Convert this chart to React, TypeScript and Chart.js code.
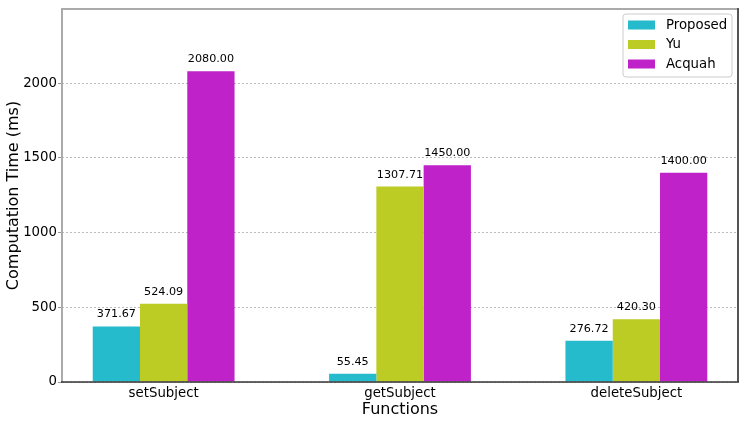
import React, { useEffect, useRef } from "react";
import { Chart, registerables } from "chart.js";

Chart.register(...registerables);

const categories = ["setSubject", "getSubject", "deleteSubject"];
const seriesNames = ["Proposed", "Yu", "Acquah"];
const proposed = [371.67, 55.45, 276.72];
const yu = [524.09, 1307.71, 420.3];
const acquah = [2080.0, 1450.0, 1400.0];
const yTicks = [0, 500, 1000, 1500, 2000];

const colors = ["#26bbcc", "#bdcb25", "#be22c8"];
const FONT = "'DejaVu Sans', sans-serif";

const framePlugin = {
  id: "frame",
  afterDatasetsDraw(chart: any) {
    const { ctx, chartArea: a } = chart;
    ctx.save();
    ctx.lineCap = "butt";
    ctx.strokeStyle = "#aaaaaa";
    ctx.lineWidth = 2;
    ctx.beginPath();
    ctx.moveTo(a.left - 1, a.top);
    ctx.lineTo(a.right, a.top);
    ctx.stroke();
    ctx.beginPath();
    ctx.moveTo(a.left, a.top);
    ctx.lineTo(a.left, a.bottom);
    ctx.stroke();
    ctx.strokeStyle = "#555555";
    ctx.beginPath();
    ctx.moveTo(a.right, a.top - 1);
    ctx.lineTo(a.right, a.bottom);
    ctx.stroke();
    ctx.strokeStyle = "#333333";
    ctx.lineWidth = 1.5;
    ctx.beginPath();
    ctx.moveTo(a.left - 1, a.bottom);
    ctx.lineTo(a.right + 1, a.bottom);
    ctx.stroke();

    ctx.fillStyle = "#000";
    ctx.font = `11.2px ${FONT}`;
    ctx.textAlign = "center";
    ctx.textBaseline = "alphabetic";
    chart.data.datasets.forEach((ds: any, di: number) => {
      const meta = chart.getDatasetMeta(di);
      meta.data.forEach((bar: any, i: number) => {
        const v = ds.data[i].y;
        ctx.fillText(v.toFixed(2), bar.x, bar.y - 9);
      });
    });
    ctx.restore();
  },
  afterDraw(chart: any) {
    const { ctx } = chart;
    const x = 623, y = 14, w = 109, h = 63, r = 3;
    ctx.save();
    ctx.fillStyle = "rgba(255,255,255,0.85)";
    ctx.strokeStyle = "#cccccc";
    ctx.lineWidth = 1;
    ctx.beginPath();
    ctx.moveTo(x + r, y);
    ctx.lineTo(x + w - r, y);
    ctx.arcTo(x + w, y, x + w, y + r, r);
    ctx.lineTo(x + w, y + h - r);
    ctx.arcTo(x + w, y + h, x + w - r, y + h, r);
    ctx.lineTo(x + r, y + h);
    ctx.arcTo(x, y + h, x, y + h - r, r);
    ctx.lineTo(x, y + r);
    ctx.arcTo(x, y, x + r, y, r);
    ctx.closePath();
    ctx.fill();
    ctx.stroke();
    ctx.font = `13.3px ${FONT}`;
    ctx.textAlign = "left";
    ctx.textBaseline = "middle";
    chart.data.datasets.forEach((ds: any, i: number) => {
      const cy = 25 + i * 19.5;
      ctx.fillStyle = ds.backgroundColor;
      ctx.fillRect(628, cy - 4.5, 27, 9);
      ctx.fillStyle = "#000";
      ctx.fillText(ds.label, 666, cy + 0.5);
    });
    ctx.restore();
  },
};

export default function App() {
  const ref = useRef<HTMLCanvasElement | null>(null);
  useEffect(() => {
    document.body.style.margin = "0";
    if (!ref.current) return;
    const allSeries = [proposed, yu, acquah];
    const chart = new Chart(ref.current, {
      type: "bar",
      data: {
        datasets: allSeries.map((vals, si) => ({
          label: seriesNames[si],
          data: vals.map((v, i) => ({ x: i, y: v })),
          backgroundColor: colors[si],
          borderWidth: 0,
          categoryPercentage: 0.6,
          barPercentage: 1,
        })),
      },
      options: {
        animation: false,
        responsive: true,
        maintainAspectRatio: false,
        layout: { padding: { top: 8, right: 9, left: 0, bottom: 0 } },
        plugins: { legend: { display: false }, tooltip: { enabled: false } },
        scales: {
          x: {
            type: "linear",
            min: -0.43,
            max: 2.43,
            offset: false,
            grid: { display: false, offset: false, drawTicks: false },
            border: { display: false },
            afterBuildTicks: (scale: any) => {
              scale.ticks = categories.map((_, i) => ({ value: i }));
            },
            afterFit: (scale: any) => {
              scale.height = 45;
            },
            ticks: {
              callback: (v: any) => categories[v as number] ?? "",
              color: "#000",
              font: { family: FONT, size: 13.3 },
              padding: 4,
              maxRotation: 0,
              autoSkip: false,
            },
            title: {
              display: true,
              text: "Functions",
              color: "#000",
              font: { family: FONT, size: 16 },
              padding: { top: 0, bottom: 8 },
            },
          },
          y: {
            min: 0,
            max: 2496,
            afterBuildTicks: (scale: any) => {
              scale.ticks = yTicks.map((v) => ({ value: v }));
            },
            afterFit: (scale: any) => {
              scale.width = 62;
            },
            grid: {
              color: "#aaaaaa",
              lineWidth: 0.8,
              tickColor: "#999999",
              tickWidth: 1,
              tickLength: 4,
              tickBorderDash: [],
            },
            border: { display: false, dash: [2, 2] },
            ticks: {
              callback: (v: any) => String(v),
              color: "#000",
              font: { family: FONT, size: 13.3 },
              padding: 1,
            },
            title: {
              display: true,
              text: "Computation Time (ms)",
              color: "#000",
              font: { family: FONT, size: 16 },
              padding: { top: 4, bottom: 0 },
            },
          },
        },
      },
      plugins: [framePlugin],
    } as any);
    return () => chart.destroy();
  }, []);
  return (
    <div style={{ width: 747, height: 427, position: "relative" }}>
      <canvas ref={ref} />
    </div>
  );
}
